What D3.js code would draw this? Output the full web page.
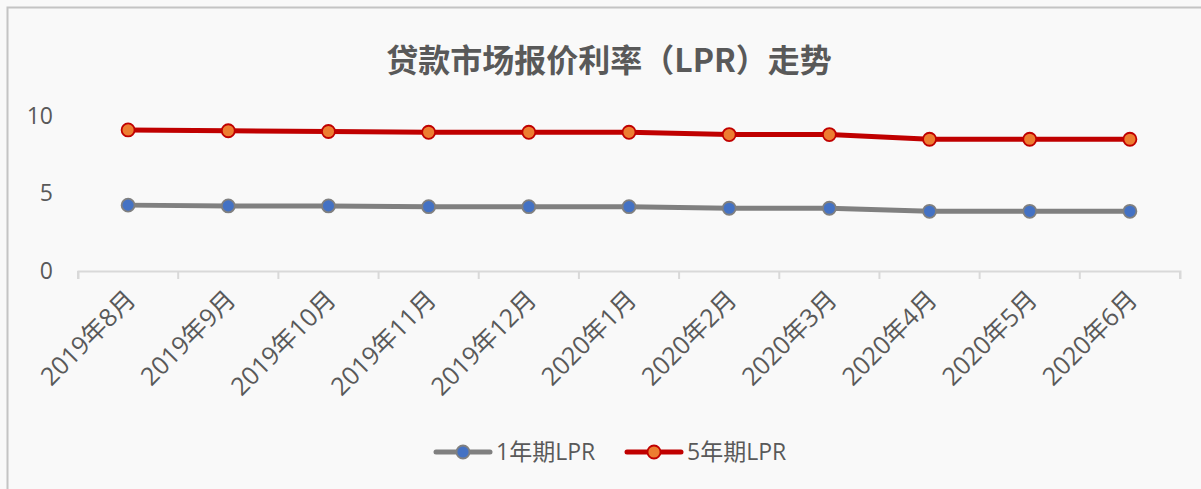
<!DOCTYPE html>
<html>
<head>
<meta charset="utf-8">
<script src="https://cdn.jsdelivr.net/npm/d3@7/dist/d3.min.js"></script>
<style>
  html, body { margin: 0; padding: 0; background: #f9f9f9; }
  svg { display: block; font-family: "Open Sans", "Noto Sans CJK SC", sans-serif; }
</style>
</head>
<body>
<div id="chart"></div>
<script>
// data
var months = ["2019年8月", "2019年9月", "2019年10月", "2019年11月", "2019年12月",
  "2020年1月", "2020年2月", "2020年3月", "2020年4月", "2020年5月", "2020年6月"];
var lpr1y = [4.25, 4.20, 4.20, 4.15, 4.15, 4.15, 4.05, 4.05, 3.85, 3.85, 3.85];
var lpr5y = [4.85, 4.85, 4.80, 4.80, 4.80, 4.80, 4.75, 4.75, 4.65, 4.65, 4.65];
var seriesNames = ["1年期LPR", "5年期LPR"];
var yTicks = [0, 5, 10];

var fontFam = "'Open Sans', 'Noto Sans CJK SC', sans-serif";
var width = 1201, height = 489;
var margin = {top: 116, right: 21, bottom: 218, left: 78};

var svg = d3.select("#chart").append("svg")
    .attr("width", width)
    .attr("height", height);

svg.append("rect")
    .attr("width", width).attr("height", height)
    .attr("fill", "#f9f9f9");

// outer chart border (only top + left visible in the crop)
svg.append("path")
    .attr("d", "M7.5," + height + "V7.5H" + width)
    .attr("fill", "none")
    .attr("stroke", "#c4c4c4")
    .attr("stroke-width", 2);

svg.append("text")
    .attr("x", 609)
    .attr("y", 72)
    .attr("text-anchor", "middle")
    .attr("font-family", "'Noto Sans CJK SC', sans-serif")
    .attr("font-weight", "bold")
    .attr("font-size", "32px")
    .attr("fill", "#595959")
    .text("贷款市场报价利率（LPR）走势");

// the picture is a stacked line chart: 5y line sits on top of the 1y one
var rows = months.map(function(m, i) {
  return {month: m, a: lpr1y[i], b: lpr5y[i]};
});
var stacked = d3.stack().keys(["a", "b"])(rows);

var x = d3.scaleBand()
    .domain(months)
    .range([margin.left, width - margin.right]);

var y = d3.scaleLinear()
    .domain([0, 10])
    .range([height - margin.bottom, margin.top]);

var xAxis = d3.axisBottom(x).tickSize(8).tickSizeOuter(8);

var gx = svg.append("g")
    .attr("transform", "translate(0," + y(0) + ")")
    .call(xAxis)
    .attr("font-family", fontFam)
    .attr("font-size", 25);
gx.select(".domain").attr("stroke", "#d9d9d9").attr("stroke-width", 2);
// excel puts ticks on the category boundaries
gx.selectAll(".tick line").remove();
svg.append("g")
    .selectAll("line")
    .data(months.concat(["end"]))
    .enter().append("line")
    .attr("x1", function(d, i) { return margin.left + i * x.step(); })
    .attr("x2", function(d, i) { return margin.left + i * x.step(); })
    .attr("y1", y(0))
    .attr("y2", y(0) + 8)
    .attr("stroke", "#d9d9d9")
    .attr("stroke-width", 2);
gx.selectAll(".tick text")
    .attr("fill", "#595959")
    .attr("text-anchor", "end")
    .attr("dy", null)
    .attr("y", 0)
    .attr("transform", "translate(9,30) rotate(-45)");

var gy = svg.append("g")
    .attr("transform", "translate(" + 53 + ",0)")
    .call(d3.axisLeft(y).tickValues(yTicks).tickSize(0))
    .attr("font-family", fontFam)
    .attr("font-size", 23);
gy.select(".domain").remove();
gy.selectAll(".tick text")
    .attr("fill", "#595959")
    .attr("x", 0);

var styles = [
  {line: "#808080", fill: "#4472c4", stroke: "#808080"},
  {line: "#c00000", fill: "#ed7d31", stroke: "#c00000"}
];

var line = d3.line()
    .x(function(d) { return x(d.data.month) + x.bandwidth() / 2; })
    .y(function(d) { return y(d[1]); });

stacked.forEach(function(s, k) {
  svg.append("path")
      .datum(s)
      .attr("fill", "none")
      .attr("stroke", styles[k].line)
      .attr("stroke-width", 5)
      .attr("stroke-linejoin", "round")
      .attr("d", line);

  svg.selectAll(".dot" + k)
      .data(s)
      .enter().append("circle")
      .attr("class", "dot" + k)
      .attr("cx", function(d) { return x(d.data.month) + x.bandwidth() / 2; })
      .attr("cy", function(d) { return y(d[1]); })
      .attr("r", 6.5)
      .attr("fill", styles[k].fill)
      .attr("stroke", styles[k].stroke)
      .attr("stroke-width", 1.8);
});

// legend
var legend = svg.append("g").attr("transform", "translate(436,452)");
var lx = [0, 191];
seriesNames.forEach(function(name, k) {
  var g = legend.append("g").attr("transform", "translate(" + lx[k] + ",0)");
  g.append("line")
      .attr("x1", 0).attr("x2", 54)
      .attr("stroke", styles[k].line)
      .attr("stroke-width", 5)
      .attr("stroke-linecap", "round");
  g.append("circle")
      .attr("cx", 27).attr("r", 6.5)
      .attr("fill", styles[k].fill)
      .attr("stroke", styles[k].stroke)
      .attr("stroke-width", 1.8);
  g.append("text")
      .attr("x", 60)
      .attr("dy", "0.36em")
      .attr("font-family", fontFam)
      .attr("font-size", "23px")
      .attr("fill", "#595959")
      .text(name);
});
</script>
</body>
</html>
